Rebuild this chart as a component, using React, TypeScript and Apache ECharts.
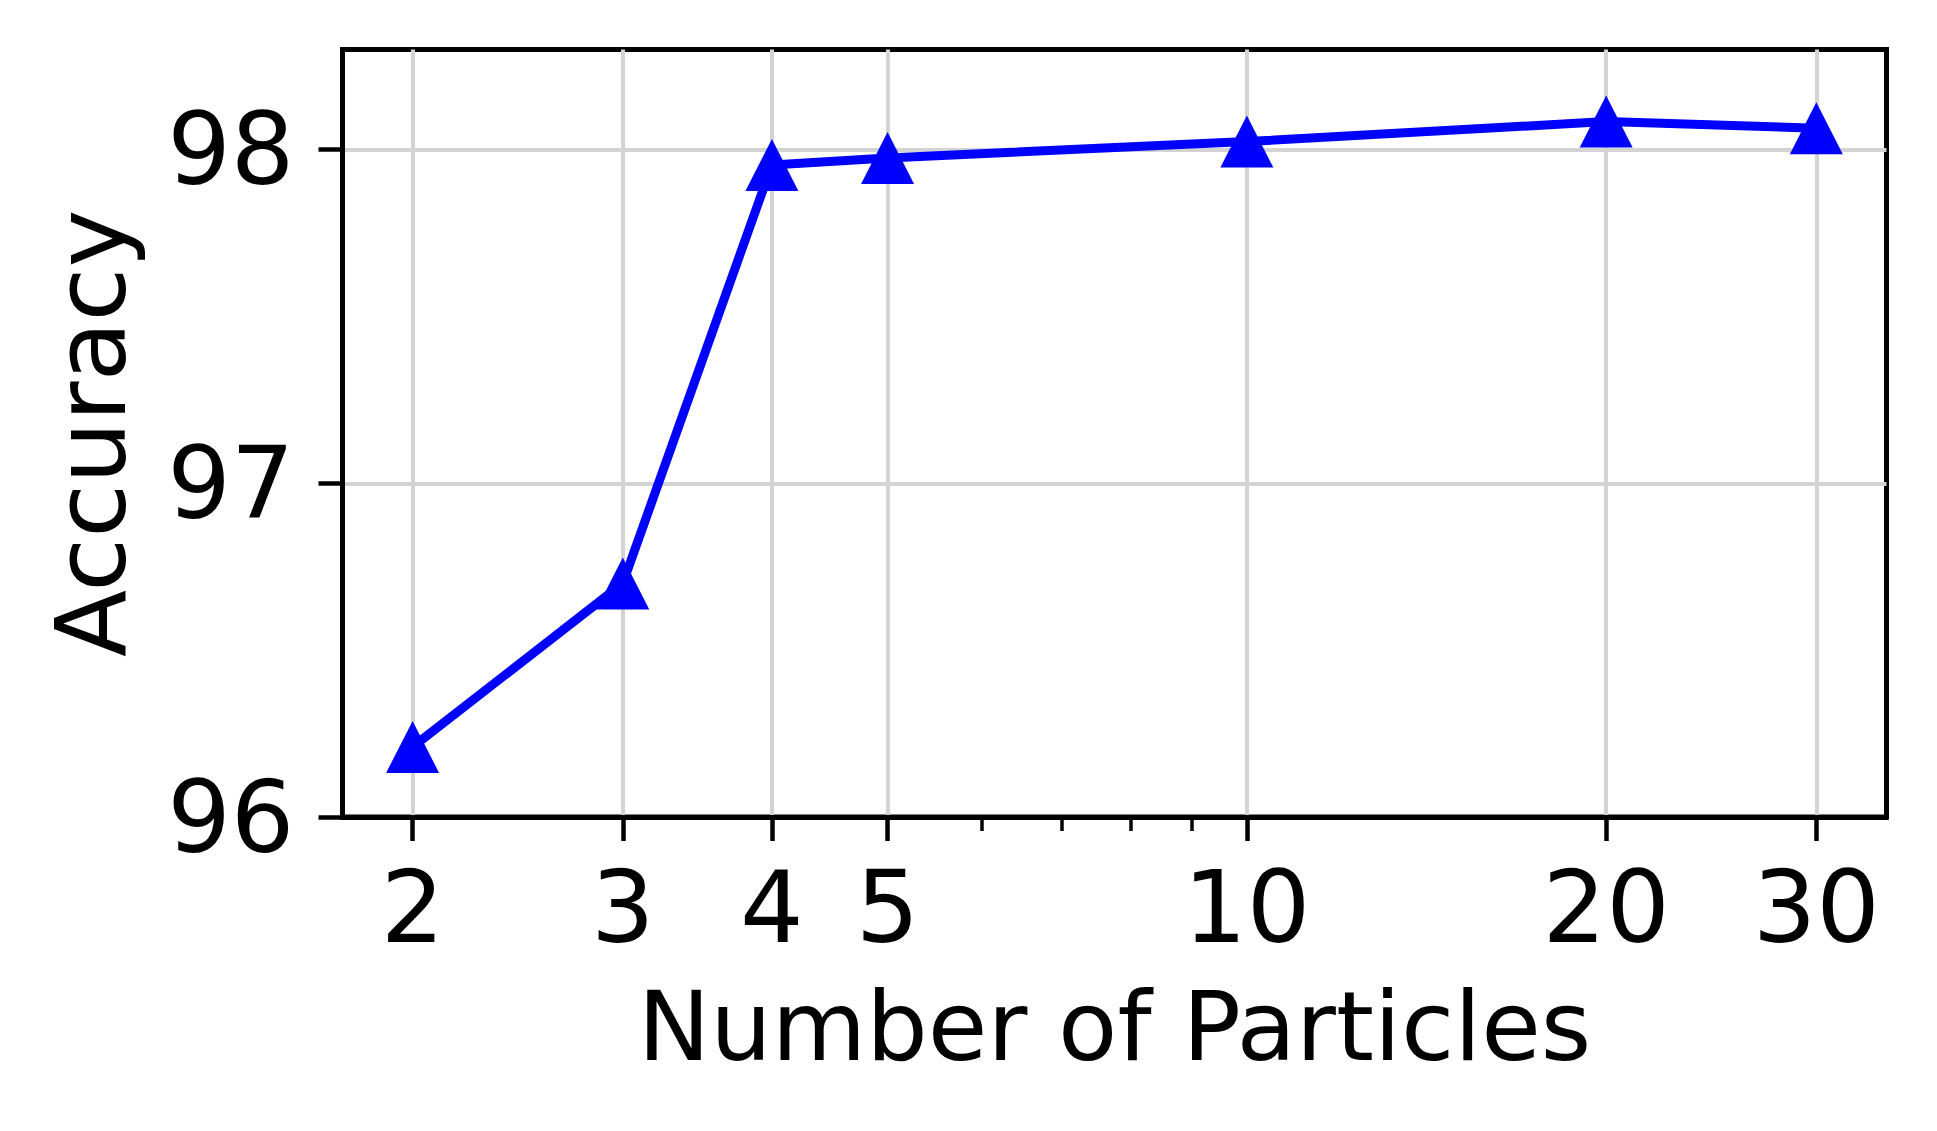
import React, { useEffect, useRef } from "react";
import * as echarts from "echarts";

const particles = [2, 3, 4, 5, 10, 20, 30];
const accuracy = [96.21, 96.7, 97.954, 97.975, 98.024, 98.084, 98.064];
const xTickValues = [2, 3, 4, 5, 10, 20, 30];
const xMinorTickValues = [6, 7, 8, 9];
const yTickValues = [96, 97, 98];
const xRange = [1.747, 34.35];
const yRange = [96, 98.3];

export default function App() {
  const ref = useRef<HTMLDivElement>(null);
  useEffect(() => {
    const chart = echarts.init(ref.current!, null, { renderer: "svg" });
    const font = "DejaVu Sans";
    chart.setOption({
      animation: false,
      backgroundColor: "#ffffff",
      grid: {
        left: 342.5,
        right: 50.5,
        top: 49.5,
        bottom: 314,
        show: true,
        borderColor: "#000000",
        borderWidth: 5,
        backgroundColor: "transparent",
      },
      xAxis: [
        {
          type: "log",
          logBase: 10,
          min: xRange[0],
          max: xRange[1],
          position: "bottom",
          name: "Number of Particles",
          nameLocation: "middle",
          nameGap: 161,
          nameTextStyle: { fontSize: 97, fontFamily: font, color: "#000" },
          axisLine: { show: true, onZero: false, lineStyle: { color: "#000", width: 5 } },
          axisTick: {
            show: true,
            customValues: xTickValues,
            length: 24,
            lineStyle: { color: "#000", width: 4.5 },
          },
          axisLabel: {
            customValues: xTickValues,
            formatter: (v: number) => String(Math.round(v)),
            margin: 40,
            fontSize: 100,
            fontFamily: font,
            color: "#000",
          },
          splitLine: { show: true, lineStyle: { color: "#d3d3d3", width: 4 } },
          minorTick: { show: false },
          minorSplitLine: { show: false },
        },
        {
          type: "log",
          logBase: 10,
          min: xRange[0],
          max: xRange[1],
          position: "bottom",
          axisLine: { show: false, onZero: false },
          axisTick: {
            show: true,
            customValues: xMinorTickValues,
            length: 14,
            lineStyle: { color: "#000", width: 3.5 },
          },
          axisLabel: { show: false },
          splitLine: { show: false },
        },
      ],
      yAxis: {
        type: "value",
        min: yRange[0],
        max: yRange[1],
        interval: 1,
        name: "Accuracy",
        nameLocation: "middle",
        nameGap: 203,
        nameRotate: 90,
        nameTextStyle: { fontSize: 98, fontFamily: font, color: "#000" },
        axisLine: { show: true, onZero: false, lineStyle: { color: "#000", width: 5 } },
        axisTick: {
          show: true,
          customValues: yTickValues,
          length: 24,
          lineStyle: { color: "#000", width: 4.5 },
        },
        axisLabel: {
          customValues: yTickValues,
          margin: 48,
          fontSize: 100,
          fontFamily: font,
          color: "#000",
        },
        splitLine: { show: true, lineStyle: { color: "#d3d3d3", width: 4 } },
      },
      series: [
        {
          type: "line",
          xAxisIndex: 0,
          data: particles.map((p, i) => [p, accuracy[i]]),
          symbol: "triangle",
          symbolSize: [53, 52],
          itemStyle: { color: "#0000ff" },
          lineStyle: { color: "#0000ff", width: 9 },
          z: 5,
        },
      ],
    });
    return () => chart.dispose();
  }, []);
  return (
    <div
      ref={ref}
      style={{ position: "fixed", left: 0, top: 0, width: 1937, height: 1131 }}
    />
  );
}
